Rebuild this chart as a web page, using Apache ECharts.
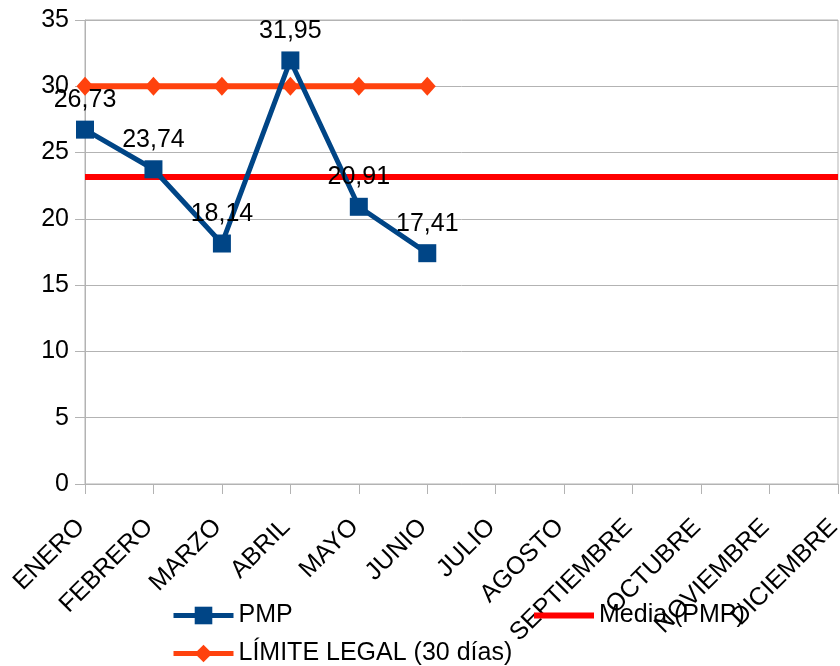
<!DOCTYPE html>
<html><head><meta charset="utf-8">
<script src="https://cdn.jsdelivr.net/npm/echarts@6/dist/echarts.min.js"></script>
<style>html,body{margin:0;padding:0;background:#fff}#c{width:840px;height:666px}</style>
</head><body><div id="c"></div>
<script>
var categories = ['ENERO','FEBRERO','MARZO','ABRIL','MAYO','JUNIO','JULIO','AGOSTO','SEPTIEMBRE','OCTUBRE','NOVIEMBRE','DICIEMBRE'];
var pmp = [26.73, 23.74, 18.14, 31.95, 20.91, 17.41];
var limite = [30, 30, 30, 30, 30, 30];
var media = [23.15, 23.15, 23.15, 23.15, 23.15, 23.15, 23.15, 23.15, 23.15, 23.15, 23.15, 23.15];
var yTicks = [0, 5, 10, 15, 20, 25, 30, 35];

var font = 'Liberation Sans';
var fs = 25;
var chart = echarts.init(document.getElementById('c'));
chart.setOption({
  animation: false,
  backgroundColor: '#fff',
  textStyle: {fontFamily: font},
  grid: {left: 85, right: 2, top: 20, bottom: 182, show: true, borderColor: '#b3b3b3', borderWidth: 1,
         containLabel: false, outerBoundsMode: 'none'},
  legend: [
    {data: ['PMP'], left: 166, top: 598, itemWidth: 60, itemHeight: 22, itemGap: 8,
     lineStyle: {width: 5}, textStyle: {fontSize: fs, color: '#000', fontFamily: font}},
    {data: [{name: 'Media (PMP)', icon: 'rect'}], left: 529, top: 598, itemWidth: 60, itemHeight: 6,
     textStyle: {fontSize: fs, color: '#000', fontFamily: font}},
    {data: ['LÍMITE LEGAL (30 días)'], left: 166, top: 636, itemWidth: 60, itemHeight: 22,
     lineStyle: {width: 5}, textStyle: {fontSize: fs, color: '#000', fontFamily: font}}
  ],
  xAxis: {
    type: 'category', data: categories, boundaryGap: false,
    axisLine: {lineStyle: {color: '#b3b3b3'}},
    axisTick: {show: true, length: 10, lineStyle: {color: '#b3b3b3'}},
    axisLabel: {rotate: 45, fontSize: fs, color: '#000', margin: 35, padding: [0, 6, 0, 0], fontFamily: font, interval: 0},
    splitLine: {show: false}
  },
  yAxis: {
    type: 'value', min: yTicks[0], max: yTicks[yTicks.length - 1], interval: 5,
    axisLine: {show: true, lineStyle: {color: '#b3b3b3'}},
    axisTick: {show: true, length: 10, lineStyle: {color: '#b3b3b3'}},
    axisLabel: {fontSize: fs, color: '#000', margin: 16, fontFamily: font},
    splitLine: {lineStyle: {color: '#b3b3b3'}}
  },
  series: [
    {name: 'PMP', type: 'line', data: pmp, color: '#004586', z: 5,
     lineStyle: {width: 5, color: '#004586'}, symbol: 'rect', symbolSize: 18,
     itemStyle: {color: '#004586'},
     label: {show: true, position: 'top', distance: 8, fontSize: fs, color: '#000', fontFamily: font,
             formatter: function (p) { return p.value.toFixed(2).replace('.', ','); }}},
    {name: 'Media (PMP)', type: 'line', data: media, color: '#ff0000', z: 3,
     lineStyle: {width: 6, color: '#ff0000'}, symbol: 'none', showSymbol: false,
     itemStyle: {color: '#ff0000'}},
    {name: 'LÍMITE LEGAL (30 días)', type: 'line', data: limite, color: '#ff420e', z: 4,
     lineStyle: {width: 6, color: '#ff420e'}, symbol: 'diamond', symbolSize: [17, 19],
     itemStyle: {color: '#ff420e'}}
  ]
});
</script></body></html>
